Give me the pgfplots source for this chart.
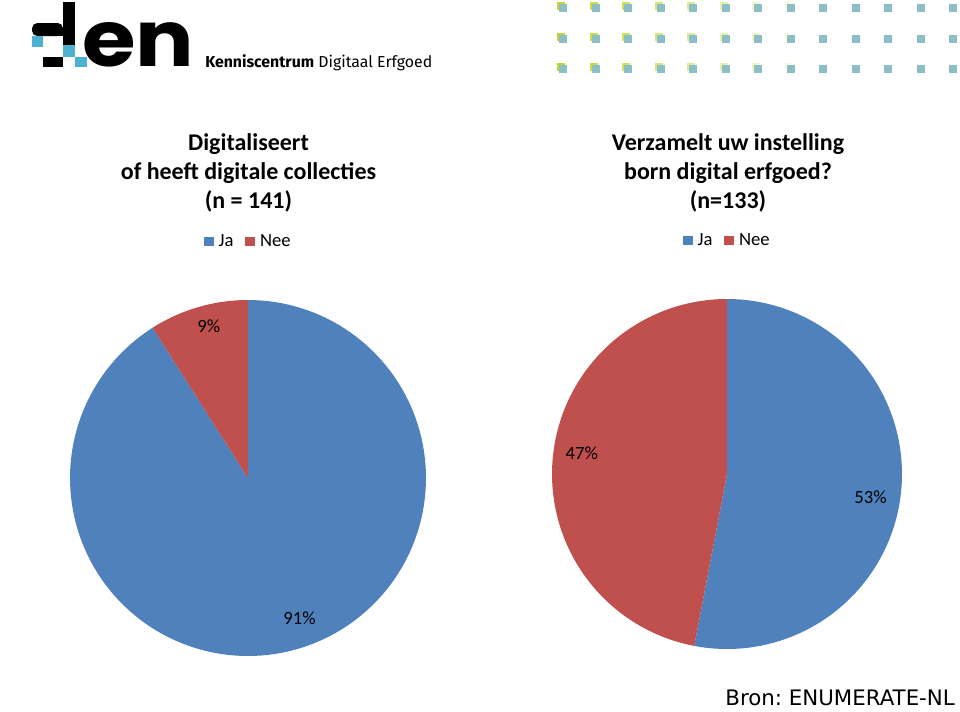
\documentclass[border=0pt]{standalone}
\usepackage{pgfplots}
\pgfplotsset{compat=1.18}
\usepackage{pgfplotstable}
\usepackage{graphicx}
\usepackage{fontspec}
\setmainfont{Carlito}
\newfontfamily\verdanafont{DejaVu Sans}
\newfontfamily\logofont{Poppins}
\newfontfamily\sublogofont{Fira Sans}
\definecolor{jaBlue}{HTML}{4F81BD}
\definecolor{neeRed}{HTML}{C0504D}
\definecolor{logoBlue}{RGB}{77,178,207}
\definecolor{dotYellow}{RGB}{196,214,40}
\definecolor{dotBlue}{RGB}{140,190,200}

\pgfplotstableread{
label value
Ja 91
Nee 9
}\tableA
\pgfplotstableread{
label value
Ja 53
Nee 47
}\tableB

\pgfplotsset{
  pie/.style={
    scale only axis, hide axis, clip=false,
    xmin=-1, xmax=1, ymin=-1, ymax=1,
    anchor=center,
    legend columns=2,
    legend style={at={(0.5,1)}, anchor=center, yshift=44pt, draw=none, fill=none,
      font=\fontsize{14}{16}\selectfont,
      nodes={inner xsep=1pt},
      /tikz/every even column/.append style={column sep=8pt}},
    legend image code/.code={\fill[##1] (0pt,-3.6pt) rectangle (7.2pt,3.6pt);
      \path (0pt,0pt) -- (10pt,0pt);},
  }
}

\begin{document}
\frenchspacing
\begin{tikzpicture}
\useasboundingbox (0,0) rectangle (720pt,-533.25pt);

\begin{scope}[x=0.75pt,y=-0.75pt]
  % logo "d" pixel art
  \fill[black] (63,2) rectangle (75,45);
  \fill[black, rounded corners=4pt] (32,36) -- (32,23) -- (63,23) -- (63,36) -- cycle;
  \fill[black] (40,30) rectangle (63,36);
  \fill[logoBlue] (32,36) rectangle (43,47);
  \fill[logoBlue] (63,45) rectangle (75,57);
  \fill[black] (43,57) rectangle (63,67);
  \fill[logoBlue] (75,57) rectangle (87,67);
  \node[anchor=south west, inner sep=0pt] at (82,67) {\resizebox{84pt}{33pt}{\logofont\bfseries en}};
  \node[anchor=west, inner sep=0pt] at (205,63) {\resizebox{170.25pt}{!}{\sublogofont\fontsize{13}{15}\selectfont\textbf{Kenniscentrum} Digitaal Erfgoed}};
  % dot pattern
  \foreach \i in {0,...,12}{
    \foreach \yy in {7,38,68}{
      \pgfmathsetmacro{\xx}{562+32.5*\i}
      \pgfmathsetmacro{\op}{max(0,1-\i/8)}
      \fill[dotYellow, opacity=\op] (\xx-5,\yy-5) rectangle (\xx+3,\yy+3);
      \fill[dotBlue] (\xx-3,\yy-3) rectangle (\xx+5,\yy+5);
    }
  }
  % titles
  \node[align=center, font=\fontsize{18}{21.75}\selectfont\bfseries] at (248.5,173)
    {Digitaliseert\\of heeft digitale collecties\\(n = 141)};
  \node[align=center, font=\fontsize{18}{21.75}\selectfont\bfseries] at (728,173)
    {Verzamelt uw instelling\\born digital erfgoed?\\(n=133)};
  % source
  \node[anchor=base east, inner sep=0pt, font=\verdanafont\fontsize{16}{18}\selectfont] at (955,705) {Bron: ENUMERATE-NL};
\end{scope}

% left pie
\pgfplotstablegetelem{0}{value}\of\tableA \edef\jaA{\pgfplotsretval}
\pgfplotstablegetelem{1}{value}\of\tableA \edef\neeA{\pgfplotsretval}
\pgfmathsetmacro{\cutA}{90-3.6*\jaA}
\begin{axis}[pie, width=267pt, height=267pt, at={(186pt,-358.5pt)}]
  \addplot[fill=jaBlue, draw=none, domain=\cutA:90, samples=150, variable=\t]
    ({cos(t)},{sin(t)}) -- (axis cs:0,0) -- cycle;
  \addlegendentry{Ja}
  \addplot[fill=neeRed, draw=none, domain=-270:\cutA, samples=40, variable=\t]
    ({cos(t)},{sin(t)}) -- (axis cs:0,0) -- cycle;
  \addlegendentry{Nee}
  \node[font=\fontsize{14}{16}\selectfont] at (axis cs:-0.22,0.85) {\neeA\%};
  \node[font=\fontsize{14}{16}\selectfont] at (axis cs:0.29,-0.79) {\jaA\%};
\end{axis}

% right pie
\pgfplotstablegetelem{0}{value}\of\tableB \edef\jaB{\pgfplotsretval}
\pgfplotstablegetelem{1}{value}\of\tableB \edef\neeB{\pgfplotsretval}
\pgfmathsetmacro{\cutB}{90-3.6*\jaB}
\begin{axis}[pie, width=262.5pt, height=262.5pt, at={(545.25pt,-355.5pt)}]
  \addplot[fill=jaBlue, draw=none, domain=\cutB:90, samples=120, variable=\t]
    ({cos(t)},{sin(t)}) -- (axis cs:0,0) -- cycle;
  \addlegendentry{Ja}
  \addplot[fill=neeRed, draw=none, domain=-270:\cutB, samples=120, variable=\t]
    ({cos(t)},{sin(t)}) -- (axis cs:0,0) -- cycle;
  \addlegendentry{Nee}
  \node[font=\fontsize{14}{16}\selectfont] at (axis cs:-0.83,0.12) {\neeB\%};
  \node[font=\fontsize{14}{16}\selectfont] at (axis cs:0.82,-0.13) {\jaB\%};
\end{axis}
\end{tikzpicture}
\end{document}
